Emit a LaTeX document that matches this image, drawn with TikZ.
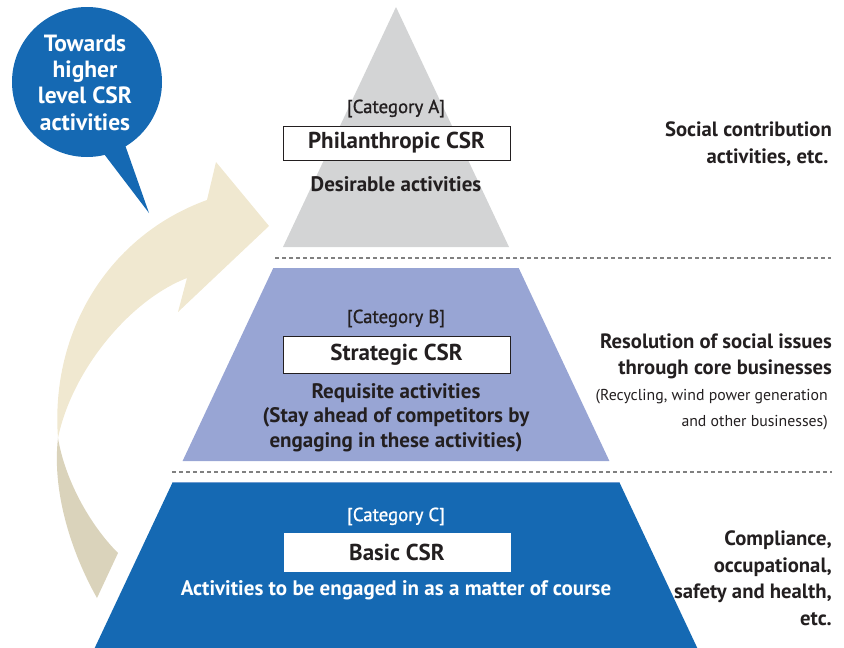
\documentclass[tikz,border=0pt]{standalone}
\usepackage{fontspec}
\setmainfont{PT Sans}
\newfontfamily\catfont[FakeBold=1.2]{PT Sans}
\definecolor{txt}{HTML}{231F20}
\definecolor{grayA}{HTML}{D3D4D5}
\definecolor{blueB}{HTML}{98A5D4}
\definecolor{blueC}{HTML}{1569B3}
\definecolor{blueLine}{HTML}{6E9BD0}
\definecolor{creamL}{HTML}{F0E8D0}
\definecolor{creamD}{HTML}{DAD3BB}
\definecolor{dashg}{HTML}{808080}
\tikzset{
  catlabel/.style={font=\catfont\fontsize{18.8}{22}\selectfont, text=txt, inner sep=0pt},
  catlabelw/.style={catlabel, text=white},
  csrbox/.style={draw=txt, line width=0.8pt, fill=white, minimum width=227pt, inner sep=0pt, font=\bfseries\fontsize{23}{26}\selectfont, text=txt},
  desc/.style={font=\bfseries\fontsize{21}{24.5}\selectfont, align=center, text=txt, inner sep=0pt},
  descw/.style={desc, text=white},
  side/.style={anchor=east, align=right, font=\bfseries\fontsize{20.7}{26.5}\selectfont, text=txt, inner sep=0pt},
  sidenote/.style={anchor=east, align=right, font=\fontsize{15.8}{26}\selectfont, text=txt, inner sep=0pt},
  sep/.style={draw=dashg, line width=1.2pt, dash pattern=on 4pt off 3pt},
  bubtext/.style={font=\bfseries\fontsize{23.5}{26.3}\selectfont, align=center, text=white, inner sep=0pt}
}
\begin{document}
\begin{tikzpicture}[x=1pt,y=-1pt]
\useasboundingbox (0,0) rectangle (844,648);
% curved arrow
\coordinate (P) at (58,438);
\fill[creamL] (P) .. controls (50,330) and (110,235) .. (207,200)
  -- (216,162) -- (269,226) -- (178,312) -- (187,278)
  .. controls (130,300) and (72,370) .. (P) -- cycle;
\fill[creamD] (P) .. controls (52,490) and (70,550) .. (97,598)
  -- (118,553) .. controls (90,525) and (65,480) .. (P) -- cycle;
% speech bubble
\fill[blueC] (87,82) circle (75);
\fill[blueC] (101,150) -- (149,213) -- (124,142) -- cycle;
\node[bubtext] (bub) at (85,82.5) {Towards\\higher\\level CSR\\activities};
% pyramid
\fill[grayA] (396,7) -- (509,247) -- (283,247) -- cycle;
\fill[blueB] (273.3,268) -- (518.7,268) -- (609.4,461) -- (182.6,461) -- cycle;
\fill[blueC] (172.75,482) -- (619.25,482) -- (697.3,648) -- (94.7,648) -- cycle;
\draw[blueLine, line width=0.8pt] (173,482.4) -- (619,482.4);
% separators
\coordinate (s1a) at (275,258);
\coordinate (s1b) at (831,258);
\coordinate (s2a) at (172,472);
\coordinate (s2b) at (832,472);
\draw[sep] (s1a) -- (s1b);
\draw[sep] (s2a) -- (s2b);
% category A
\node[catlabel] (catA) at (396,108.5) {[Category A]};
\node[csrbox, minimum height=34pt] (boxA) at (396.5,143) {Philanthropic CSR};
\node[desc] (descA) at (396,184) {Desirable activities};
% category B
\node[catlabel] (catB) at (396,318.5) {[Category B]};
\node[csrbox, minimum height=37pt] (boxB) at (396.5,354.5) {Strategic CSR};
\node[desc] (descB) at (396,417.5) {Requisite activities\\(Stay ahead of competitors by\\engaging in these activities)};
% category C
\node[catlabelw] (catC) at (396,516.5) {[Category C]};
\node[csrbox, draw=none, minimum height=39pt] (boxC) at (397,552.5) {Basic CSR};
\node[descw] (descC) at (396,590) {Activities to be engaged in as a matter of course};
% right side texts
\node[side] (rA) at (832,144) {Social contribution\\activities, etc.\,};
\node[side] (rB) at (832,356.5) {Resolution of social issues\\through core businesses};
\node[sidenote] (rB2) at (828,410) {(Recycling, wind power generation\\and other businesses)};
\node[side] (rC) at (832,578) {Compliance,\\occupational,\\safety and health,\\etc.};
\end{tikzpicture}
\end{document}
